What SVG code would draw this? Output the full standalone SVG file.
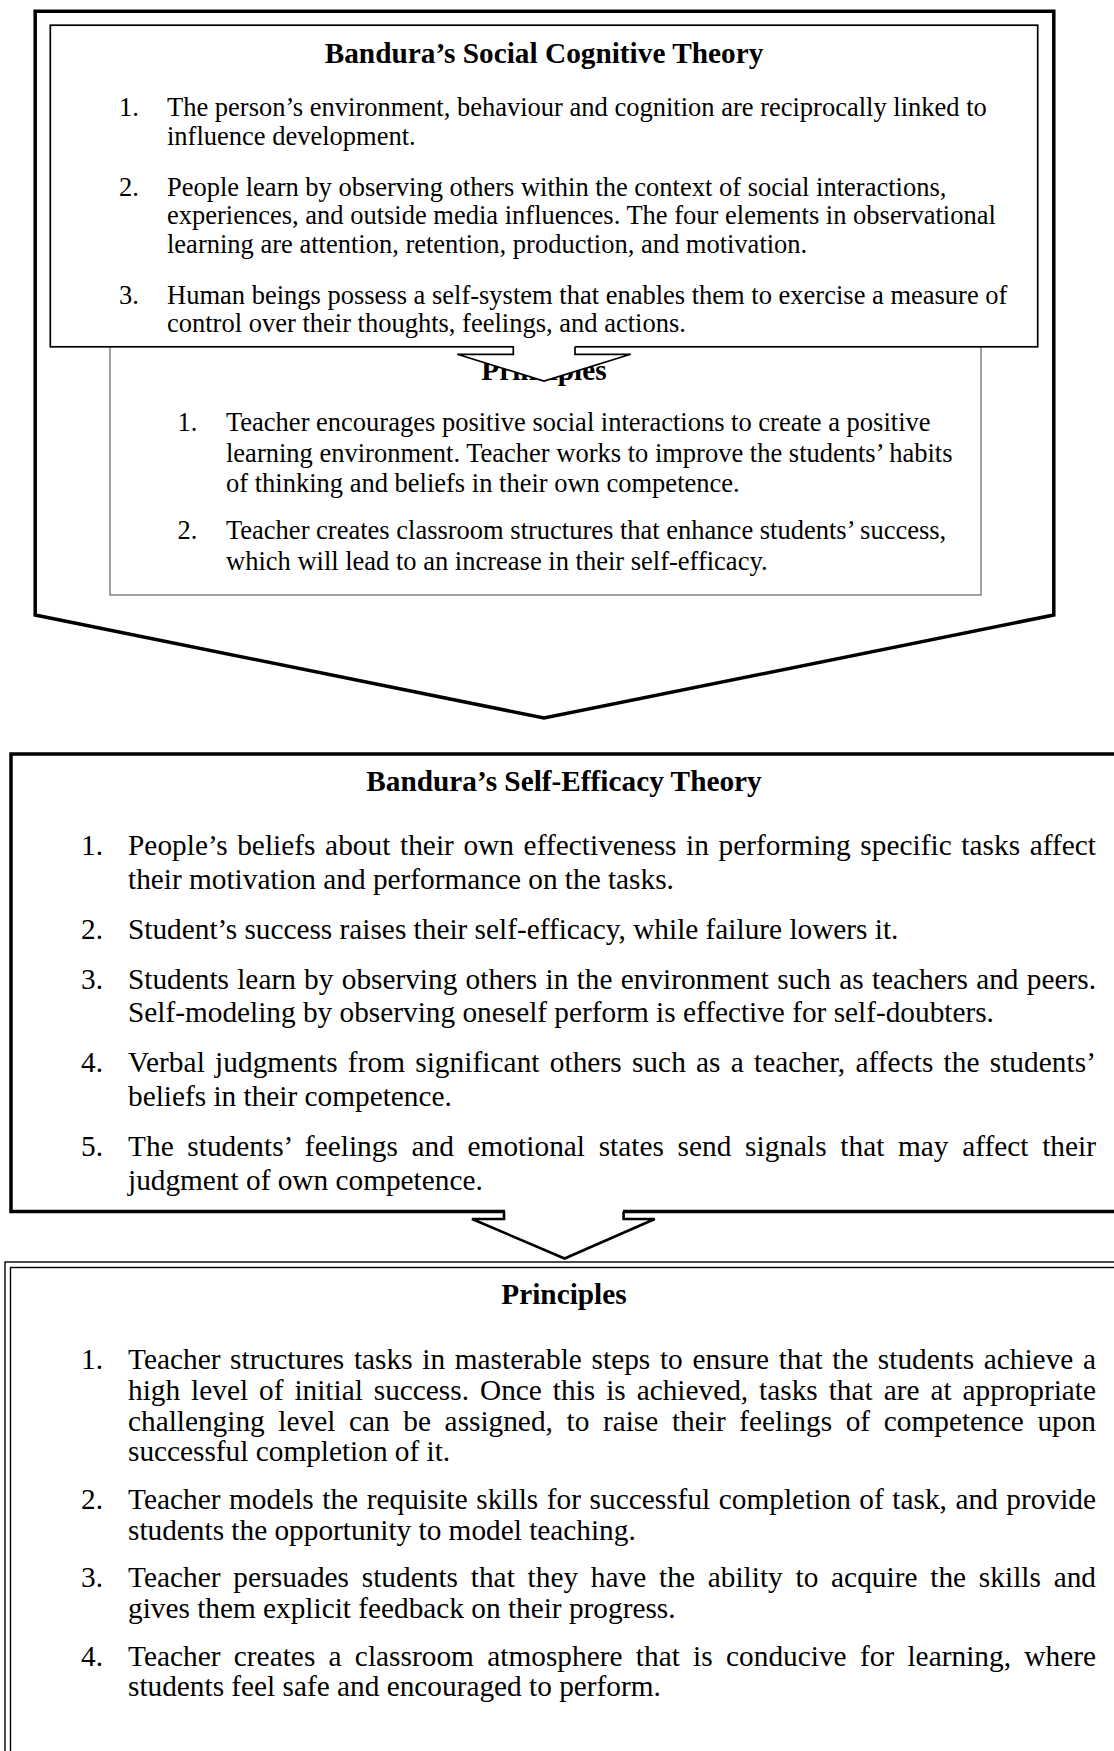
<svg xmlns="http://www.w3.org/2000/svg" width="1114" height="1751" viewBox="0 0 1114 1751">
  <style>
    .t { font-family: "Liberation Serif", "Times New Roman", serif; fill: #000; }
    .s1 { font-size: 26.5px; }
    .s2 { font-size: 29.3px; }
    .hd { font-size: 29.3px; font-weight: bold; text-anchor: middle; }
    .frame { fill: #fff; stroke: #000; stroke-width: 3.5; stroke-linejoin: miter; }
    .box1 { fill: #fff; stroke: #000; stroke-width: 1.7; }
    .box1b { fill: #fff; stroke: #555; stroke-width: 1.1; }
    .box2 { fill: #fff; stroke: #000; stroke-width: 3.5; }
    .dbl { fill: none; stroke: #000; stroke-width: 1.4; }
    .arrowfill { fill: #fff; stroke: none; }
    .arrowline { fill: none; stroke: #000; stroke-linejoin: miter; }
  </style>

  <!-- Chevron frame holding the social cognitive theory and its principles -->
  <g id="sct-frame">
    <path class="frame" d="M35.2,11.3 L1053.8,11.3 L1053.8,615 L544,718 L35.2,615 Z"/>
  </g>

  <!-- Principles derived from social cognitive theory -->
  <g id="sct-principles">
    <rect class="box1b" x="110" y="330" width="871" height="265"/>
    <text class="t hd" x="544" y="380">Principles</text>
    <text class="t s1" x="177.5" y="431">1.</text>
    <text class="t s1" x="226" y="431">Teacher encourages positive social interactions to create a positive</text>
    <text class="t s1" x="226" y="461.5">learning environment. Teacher works to improve the students’ habits</text>
    <text class="t s1" x="226" y="492">of thinking and beliefs in their own competence.</text>
    <text class="t s1" x="177.5" y="539">2.</text>
    <text class="t s1" x="226" y="539">Teacher creates classroom structures that enhance students’ success,</text>
    <text class="t s1" x="226" y="569.5">which will lead to an increase in their self-efficacy.</text>
  </g>

  <!-- Social cognitive theory -->
  <g id="social-cognitive-theory">
    <rect class="box1" x="50.3" y="25.2" width="987.4" height="321.6"/>
    <text class="t hd" x="544" y="63">Bandura’s Social Cognitive Theory</text>
    <text class="t s1" x="119" y="116">1.</text>
    <text class="t s1" x="167" y="116">The person’s environment, behaviour and cognition are reciprocally linked to</text>
    <text class="t s1" x="167" y="144.5">influence development.</text>
    <text class="t s1" x="119" y="195.5">2.</text>
    <text class="t s1" x="167" y="195.5">People learn by observing others within the context of social interactions,</text>
    <text class="t s1" x="167" y="224">experiences, and outside media influences. The four elements in observational</text>
    <text class="t s1" x="167" y="252.5">learning are attention, retention, production, and motivation.</text>
    <text class="t s1" x="119" y="303.5">3.</text>
    <text class="t s1" x="167" y="303.5">Human beings possess a self-system that enables them to exercise a measure of</text>
    <text class="t s1" x="167" y="332">control over their thoughts, feelings, and actions.</text>
  </g>

  <!-- Self-efficacy theory -->
  <g id="self-efficacy-theory">
    <rect class="box2" x="11" y="754" width="1120" height="457.5"/>
    <text class="t hd" x="564" y="791">Bandura’s Self-Efficacy Theory</text>
    <text class="t s2" x="81" y="855">1.</text>
    <text class="t s2" x="128" y="855" word-spacing="2.2" textLength="968" lengthAdjust="spacing">People’s beliefs about their own effectiveness in performing specific tasks affect</text>
    <text class="t s2" x="128" y="888.7">their motivation and performance on the tasks.</text>
    <text class="t s2" x="81" y="938.7">2.</text>
    <text class="t s2" x="128" y="938.7">Student’s success raises their self-efficacy, while failure lowers it.</text>
    <text class="t s2" x="81" y="988.7">3.</text>
    <text class="t s2" x="128" y="988.7" word-spacing="1" textLength="968" lengthAdjust="spacing">Students learn by observing others in the environment such as teachers and peers.</text>
    <text class="t s2" x="128" y="1022.4">Self-modeling by observing oneself perform is effective for self-doubters.</text>
    <text class="t s2" x="81" y="1072.4">4.</text>
    <text class="t s2" x="128" y="1072.4" word-spacing="2.8" textLength="968" lengthAdjust="spacing">Verbal judgments from significant others such as a teacher, affects the students’</text>
    <text class="t s2" x="128" y="1106">beliefs in their competence.</text>
    <text class="t s2" x="81" y="1156">5.</text>
    <text class="t s2" x="128" y="1156" word-spacing="6.25" textLength="968" lengthAdjust="spacing">The students’ feelings and emotional states send signals that may affect their</text>
    <text class="t s2" x="128" y="1189.8">judgment of own competence.</text>
  </g>

  <!-- Principles derived from self-efficacy theory -->
  <g id="se-principles">
    <rect class="dbl" x="5" y="1262" width="1130" height="520"/>
    <rect class="dbl" x="10.5" y="1267.5" width="1130" height="520"/>
    <text class="t hd" x="564" y="1304">Principles</text>
    <text class="t s2" x="81" y="1369">1.</text>
    <text class="t s2" x="128" y="1369" word-spacing="2.3" textLength="968" lengthAdjust="spacing">Teacher structures tasks in masterable steps to ensure that the students achieve a</text>
    <text class="t s2" x="128" y="1399.8" word-spacing="3.67" textLength="968" lengthAdjust="spacing">high level of initial success. Once this is achieved, tasks that are at appropriate</text>
    <text class="t s2" x="128" y="1430.6" word-spacing="6.34" textLength="968" lengthAdjust="spacing">challenging level can be assigned, to raise their feelings of competence upon</text>
    <text class="t s2" x="128" y="1461.4">successful completion of it.</text>
    <text class="t s2" x="81" y="1508.9">2.</text>
    <text class="t s2" x="128" y="1508.9" word-spacing="1.15" textLength="968" lengthAdjust="spacing">Teacher models the requisite skills for successful completion of task, and provide</text>
    <text class="t s2" x="128" y="1539.7">students the opportunity to model teaching.</text>
    <text class="t s2" x="81" y="1587.2">3.</text>
    <text class="t s2" x="128" y="1587.2" word-spacing="5.4" textLength="968" lengthAdjust="spacing">Teacher persuades students that they have the ability to acquire the skills and</text>
    <text class="t s2" x="128" y="1618">gives them explicit feedback on their progress.</text>
    <text class="t s2" x="81" y="1665.5">4.</text>
    <text class="t s2" x="128" y="1665.5" word-spacing="5.9" textLength="968" lengthAdjust="spacing">Teacher creates a classroom atmosphere that is conducive for learning, where</text>
    <text class="t s2" x="128" y="1696.3">students feel safe and encouraged to perform.</text>
  </g>

  <!-- Block arrows linking the boxes -->
  <g id="connectors">
    <g id="arrow-sct-to-principles">
      <path class="arrowfill" d="M514,345 L514,354 L457.3,354 L544,381 L630.7,354 L575,354 L575,345 Z"/>
      <path class="arrowline" stroke-width="1.7" d="M513.3,346.8 L513.3,354.3 L457.3,354.3 L544,381 L630.7,354.3 L575,354.3 L575,346.8"/>
    </g>
    <g id="arrow-se-to-principles">
      <path class="arrowfill" d="M505,1209 L505,1219 L472,1219 L564.6,1258.5 L654.8,1219 L623,1219 L623,1209 Z"/>
      <path class="arrowline" stroke-width="2.6" d="M504,1211.5 L504,1219 L472,1219 L564.6,1258.5 L654.8,1219 L623.6,1219 L623.6,1211.5"/>
    </g>
  </g>
</svg>
